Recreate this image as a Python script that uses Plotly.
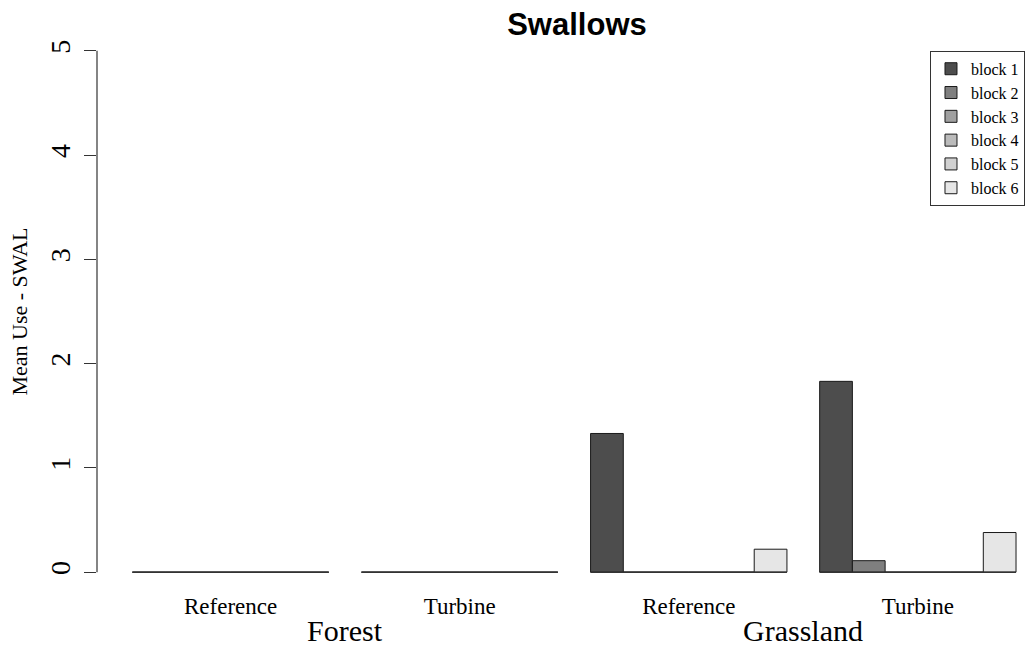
import plotly.graph_objects as go

habitats = ["Forest", "Forest", "Grassland", "Grassland"]
treatments = ["Reference", "Turbine", "Reference", "Turbine"]
blocks = ["block 1", "block 2", "block 3", "block 4", "block 5", "block 6"]
mean_use = [
    [0, 0, 1.33, 1.83],
    [0, 0, 0, 0.11],
    [0, 0, 0, 0],
    [0, 0, 0, 0],
    [0, 0, 0, 0],
    [0, 0, 0.22, 0.38],
]
y_ticks = [0, 1, 2, 3, 4, 5]

grays = ["#4d4d4d", "#7f7f7f", "#a0a0a0", "#bbbbbb", "#d1d1d1", "#e6e6e6"]
serif = "Liberation Serif, Times New Roman, serif"

cats = [f"{h} {t}" for h, t in zip(habitats, treatments)]
n_blocks = len(blocks)
bargap = 1 / (n_blocks + 1)

fig = go.Figure()

for name, vals, col in zip(blocks, mean_use, grays):
    fig.add_trace(go.Bar(
        x=cats,
        y=vals,
        name=name,
        marker=dict(color=col, line=dict(color="#1a1a1a", width=1)),
    ))

# zero-height bars in R still draw their border: a line along each group
half = (1 - bargap) / 2
for i in range(len(cats)):
    fig.add_shape(type="line", xref="x", yref="y",
                  x0=i - half, x1=i + half, y0=0, y1=0,
                  line=dict(color="#333333", width=1.5))

# y axis line only spans the tick range, like base R
fig.add_shape(type="line", xref="paper", yref="y",
              x0=0, x1=0, y0=min(y_ticks), y1=max(y_ticks),
              line=dict(color="#333333", width=1.2))

# habitat labels under each pair of groups
for hab in dict.fromkeys(habitats):
    idx = [i for i, h in enumerate(habitats) if h == hab]
    fig.add_annotation(
        x=sum(idx) / len(idx), y=-0.066, xref="x", yref="paper",
        text=hab, showarrow=False, yanchor="middle",
        font=dict(family=serif, size=30, color="black"),
    )

fig.update_layout(
    width=1034,
    height=647,
    barmode="group",
    bargap=bargap,
    bargroupgap=0,
    title=dict(text="<b>Swallows</b>", x=0.558, xref="container", xanchor="center",
               y=0.963, yref="container", yanchor="middle",
               font=dict(family="Liberation Sans, Arial, sans-serif", size=31, color="black")),
    margin=dict(l=97, r=0, t=30, b=54),
    plot_bgcolor="white",
    paper_bgcolor="white",
    legend=dict(x=0.889, xanchor="left", y=0.963, yanchor="top",
                bordercolor="#333333", borderwidth=1, bgcolor="white",
                entrywidth=72,
                font=dict(family=serif, size=16, color="black")),
)

fig.update_xaxes(
    range=[-0.583, 3.507],
    tickvals=cats, ticktext=treatments,
    showline=False, showgrid=False, zeroline=False, ticks="",
    ticklabelstandoff=-3,
    tickfont=dict(family=serif, size=23, color="black"),
)
fig.update_yaxes(
    range=[-0.2, 5.2],
    tickvals=y_ticks,
    showline=False, showgrid=False, zeroline=False,
    ticks="outside", ticklen=12, tickcolor="#333333", tickwidth=1.2,
    tickangle=-90, ticklabelstandoff=3,
    tickfont=dict(family=serif, size=28, color="black"),
    title=dict(text="Mean Use - SWAL", standoff=11,
               font=dict(family=serif, size=22, color="black")),
)

# drop the default 8px body margin so the figure sits at the window origin
fig.write_html("out.html", config={"displayModeBar": False},
               post_script="document.body.style.margin='0';")
